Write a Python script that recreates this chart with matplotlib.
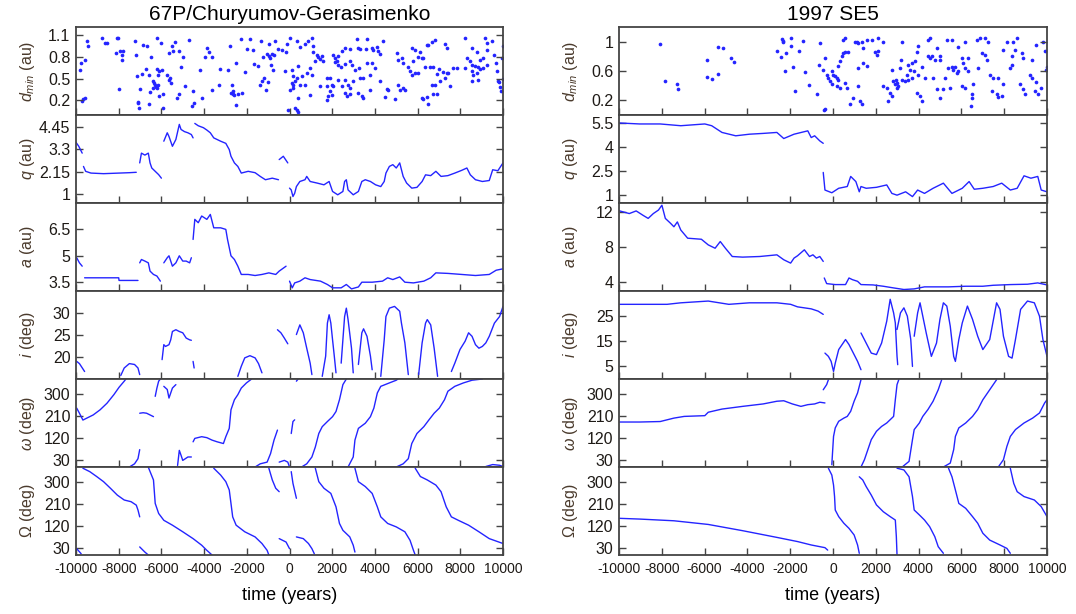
import numpy as np
import matplotlib

matplotlib.use("Agg")
import matplotlib.pyplot as plt

plt.rcParams["font.family"] = ["Liberation Sans", "DejaVu Sans"]
plt.rcParams["mathtext.fontset"] = "custom"
plt.rcParams["mathtext.rm"] = "Liberation Sans"
plt.rcParams["mathtext.it"] = "Liberation Sans:italic"

nan = np.nan
BLUE = "#2424ff"

# ---------------- 67P/Churyumov-Gerasimenko ----------------
dmin67_t = [
    -9470, -9422, -8798, -8642, -8533, -8096, -8049, -7238, -6848, -6661, -6224, -6037, -5350, -5522,
    -5444, -5647, -5163, -4695, -3884, -3759, -2792, -2293, -1856, -1981, -1731, -1341, -967, -686,
    -530, -8127, -7940, -7784, -7862, -7831, -7191, -6489, -5007, -3962, -3619, -1232, -1076, -951,
    -842, -733, -920, -9781, -9563, -9812, -6723, -6926, -6583, -7160, -6224, -6099, -5990, -6146,
    -5756, -5085, -4196, -3260, -2870, -2527, -1669, -1466, -889, -764, -2090, -5600, -5647, -5569,
    -6411, -6349, -6302, -6255, -6193, -6380, -6146, -4898, -4508, -3650, -3291, -2714, -2667, -1310,
    -1185, -1388, -998, -8002, -7004, -6536, -5943, -6099, -5163, -5257, -4118, -2667, -2605, -2745,
    -2402, -2246, -1123, -9656, -9578, -9719, -7082, -7098, -6583, -7035, -5943, -4586, -4477, -2527,
    -366, -132, -163, 24, 336, 493, 727, 883, 1039, 1117, 1117, 1273, 1351, 1429, 1507, 1585, 1195,
    2054, 2132, 2210, 2288, 2444, 2600, 2834, 3146, 3646, 4395, 3224, 3302, 3583, 3849, 3927, 4083,
    4161, 4239, 2132, 2288, 2413, 2600, 2834, 2912, 3068, 3271, 3615, 3849, 4005, 5020, 5098, 5254,
    5332, 5722, 5878, 6034, 6112, 6190, 6268, 6424, 6502, 6658, 6815, 7283, 7361, 5800, 5566, 5644,
    5722, 5878, 6034, 6346, 6580, 6737, 6893, 7018, 7205, 7361, 7439, 7673, 7829, 8219, 8532, 8766,
    9156, 9234, 9265, 9078, 8922, 8298, 8454, 8532, 8688, 8844, 8922, 9078, 9234, 8219, 8532, 8610,
    8766, 8844, 8532, -210, 102, 180, 336, 414, 571, 805, 961, 1039, 102, 180, 149, 258, 24, 493,
    727, 1429, 1741, 1898, 1976, 2054, 1741, 2288, 2444, 2600, 2756, 2834, 2990, 3302, 3458, 3771,
    4239, 961, 1898, 1820, 1976, 2600, 2678, 2834, 3224, 3380, 3427, 3771, 4551, 4629, 4473, 4941,
    5098, 5332, 5176, 5410, 6190, 6268, 6424, 6502, 6737, 6893, 6658, 6815, 7049, 7283, 7517, 414,
    258, 336, 414, -54, 1741, 9500, 9600, 9700, 9750, 9800, 9850, 9900, 9950, 9990, 9980, 9650,
]
dmin67_v = [
    1.02, 0.955, 1.055, 0.986, 0.986, 1.055, 1.055, 1.02, 0.964, 0.95, 1.055, 0.995, 1.0, 0.95,
    0.882, 0.855, 0.886, 1.027, 0.927, 0.873, 0.95, 1.041, 1.041, 0.905, 0.891, 1.018, 0.977, 1.018,
    0.905, 0.855, 0.882, 0.882, 0.827, 0.755, 0.827, 0.791, 0.795, 0.791, 0.791, 0.795, 0.836, 0.818,
    0.841, 0.827, 0.782, 0.714, 0.75, 0.618, 0.636, 0.564, 0.555, 0.532, 0.632, 0.6, 0.623, 0.555,
    0.555, 0.655, 0.623, 0.632, 0.623, 0.714, 0.7, 0.668, 0.682, 0.623, 0.591, 0.509, 0.477, 0.436,
    0.464, 0.441, 0.409, 0.382, 0.373, 0.373, 0.418, 0.405, 0.327, 0.35, 0.418, 0.418, 0.336, 0.464,
    0.509, 0.409, 0.455, 0.364, 0.359, 0.314, 0.295, 0.268, 0.282, 0.227, 0.236, 0.291, 0.273, 0.305,
    0.291, 0.305, 0.35, 0.214, 0.227, 0.191, 0.182, 0.159, 0.145, 0.1, 0.1, 0.123, 0.159, 0.132,
    0.895, 0.973, 0.873, 1.055, 1.018, 0.941, 0.973, 1.018, 1.055, 0.955, 0.873, 0.827, 0.791, 0.768,
    0.805, 0.736, 0.745, 0.827, 0.782, 0.745, 0.814, 0.882, 0.927, 0.905, 1.041, 1.041, 1.018, 0.927,
    0.905, 0.905, 0.927, 0.895, 0.941, 0.882, 0.836, 0.727, 0.691, 0.655, 0.7, 0.736, 0.691, 0.623,
    0.645, 0.714, 0.714, 0.645, 0.85, 0.759, 0.782, 0.714, 0.927, 0.895, 0.791, 0.873, 0.782, 0.782,
    0.964, 0.964, 1.0, 1.032, 0.973, 0.918, 0.736, 0.655, 0.6, 0.555, 0.577, 0.577, 0.655, 0.655,
    0.655, 0.564, 0.636, 0.591, 0.577, 0.577, 0.645, 0.645, 1.055, 0.918, 0.873, 1.055, 0.986, 0.895,
    0.782, 0.759, 0.782, 0.736, 0.691, 0.668, 0.659, 0.636, 0.645, 0.691, 0.645, 0.6, 0.555, 0.577,
    0.486, 0.473, 0.6, 0.623, 0.532, 0.509, 0.668, 0.532, 0.577, 0.645, 0.555, 0.441, 0.418, 0.373,
    0.464, 0.35, 0.418, 0.418, 0.395, 0.509, 0.509, 0.418, 0.395, 0.395, 0.486, 0.395, 0.486, 0.418,
    0.373, 0.464, 0.509, 0.509, 0.555, 0.473, 0.273, 0.327, 0.259, 0.273, 0.305, 0.259, 0.282, 0.305,
    0.259, 0.227, 0.35, 0.359, 0.35, 0.245, 0.214, 0.418, 0.373, 0.35, 0.35, 0.236, 0.214, 0.245,
    0.145, 0.282, 0.282, 0.418, 0.418, 0.464, 0.509, 0.395, 0.236, 0.1, 0.064, 0.045, 0.064, 0.2,
    1.02, 0.82, 0.6, 0.47, 0.45, 0.38, 0.33, 0.78, 0.95, 0.5, 0.72,
]

q67_t = [
    -10000, -9870, -9710, nan,
    -9650, -9548, -9300, -8710, -7984, -7500, -7177, nan,
    -7016, -6935, -6774, -6613, -6532, -6451, -6290, -6129, -6000, nan,
    -5887, -5726, -5645, -5484, -5322, -5161, -5080, -4919, -4758, -4597, -4516, nan,
    -4435, -4274, -4032, -3871, -3709, -3548, -3225, -2983, -2822, -2741, -2580, -2419, -2258, -1935,
    -1612, -1370, -1128, -806, -516, nan,
    -483, -290, -80, nan,
    1, 81, 162, 243, 323, 485, 726, 807, 968, 1291, 1614, 1856, 2017, 2259, 2501, 2581, 2662, 2743,
    2985, 3227, 3388, 3549, 3791, 4033, 4275, 4436, 4517, 4678, 4840, 5001, 5162, 5324, 5485, 5727,
    5969, 6211, 6372, 6614, 6856, 7098, 7420, 7743, 8066, 8308, 8469, 8711, 9033, 9356, 9517, 9759, 10000,
]
q67_v = [
    3.65, 3.45, 3.1, nan,
    2.42, 2.17, 2.08, 2.05, 2.08, 2.1, 2.12, nan,
    2.6, 3.1, 3.0, 3.1, 2.6, 2.34, 2.17, 2.0, 1.82, nan,
    3.71, 4.14, 3.95, 3.45, 3.8, 4.57, 4.31, 4.2, 4.14, 4.05, 3.88, nan,
    4.62, 4.5, 4.4, 4.28, 4.14, 3.88, 3.71, 3.6, 3.28, 2.94, 2.6, 2.42, 2.08, 2.17,
    2.1, 1.91, 1.74, 1.82, 1.74, nan,
    2.77, 2.94, 2.6, nan,
    1.31, 1.22, 0.88, 1.05, 1.39, 1.65, 1.74, 1.91, 1.65, 1.57, 1.48, 1.65, 1.14, 0.97, 1.14, 1.65, 1.74, 1.22,
    0.97, 1.14, 1.65, 1.74, 1.65, 1.48, 1.39, 1.65, 2.08, 2.42, 2.51, 2.34, 2.6, 1.91, 1.57, 1.31,
    1.35, 1.65, 1.99, 1.95, 2.17, 1.91, 1.95, 2.08, 2.22, 2.34, 1.99, 1.74, 1.65, 1.7, 2.25, 2.2, 2.6,
]

a67_t = [
    -9968, -9839, -9710, nan,
    -9597, -8800, -8000, -7984, -7500, -7097, nan,
    -7016, -6935, -6774, -6613, -6532, -6371, -6210, -6048, nan,
    -5887, -5726, -5645, -5484, -5322, -5161, -5000, -4839, -4677, -4597, nan,
    -4516, -4435, -4274, -4113, -3871, -3709, -3548, -3225, -2983, -2903, -2741, -2580, -2419, -2258,
    -1935, -1612, -1290, -967, -645, -483, -161, nan,
    1, 130, 243, 485, 726, 968, 1452, 1775, 2017, 2420, 2662, 2904, 3227, 3388, 3872, 4356, 4598,
    4840, 5162, 5404, 5807, 6291, 6614, 6856, 7420, 8066, 8711, 9356, 9678, 10000,
]
a67_v = [
    4.89, 4.6, 4.41, nan,
    3.75, 3.75, 3.75, 3.6, 3.6, 3.6, nan,
    4.6, 4.79, 4.7, 4.6, 4.13, 3.94, 3.85, 3.56, nan,
    4.6, 4.89, 5.0, 4.41, 4.6, 5.0, 4.7, 4.7, 4.6, 4.89, nan,
    5.93, 7.07, 6.88, 7.26, 7.07, 7.35, 6.59, 6.59, 6.5, 5.93, 5.0, 4.79, 4.41, 3.94,
    3.94, 3.88, 3.94, 4.03, 3.94, 4.13, 4.41, nan,
    3.56, 3.18, 3.46, 3.56, 3.75, 3.65, 3.56, 3.37, 3.18, 3.18, 3.37, 3.12, 3.23, 3.5, 3.5, 3.56, 3.75,
    3.65, 3.8, 3.5, 3.46, 3.56, 3.75, 4.03, 4.0, 3.94, 3.88, 3.94, 4.18, 4.26,
]

i67_t = [
    -9968, -9839, -9677, -9597, nan,
    -7903, -7742, -7500, -7258, -7097, -7016, nan,
    -5968, -5887, -5806, -5645, -5564, -5484, -5322, -5242, -5161, -5000, -4839, -4677, -4597, nan,
    -4516, -4467, nan,
    -2419, -2258, -2096, -1854, -1612, -1451, -1290, nan,
    -564, -403, -242, -80, nan,
    323, 485, 646, 807, 968, 1049, nan,
    1533, 1694, 1775, 1856, 1936, 2017, 2098, 2178, nan,
    2420, 2581, 2662, 2743, 2904, 2985, nan,
    3227, 3388, 3469, 3630, 3791, 3872, nan,
    4275, 4436, 4517, 4678, 4920, 5162, 5243, 5404, 5565, nan,
    6049, 6211, 6372, 6453, 6614, 6775, 6937, nan,
    7582, 7743, 7985, 8227, 8388, 8550, 8711, 8872, 9033, 9194, 9356, 9598, 9840, 10000,
]
i67_v = [
    19.0, 18.5, 17.3, 16.7, nan,
    15.8, 17.5, 18.5, 18.3, 17.5, 16.0, nan,
    19.4, 22.8, 22.4, 22.8, 23.9, 25.8, 26.2, 26.0, 25.8, 25.5, 24.3, 23.9, 23.8, nan,
    19.0, 17.5, nan,
    15.6, 17.9, 19.8, 20.3, 19.8, 18.5, 16.4, nan,
    26.2, 25.5, 24.3, 23.0, nan,
    25.1, 27.3, 25.5, 22.0, 18.6, 16.0, nan,
    15.6, 20.2, 27.7, 29.6, 27.7, 23.9, 20.2, 16.4, nan,
    18.6, 29.2, 31.1, 28.5, 22.0, 16.4, nan,
    18.3, 25.5, 26.4, 24.7, 20.2, 17.1, nan,
    15.6, 23.9, 29.2, 31.1, 31.5, 30.4, 27.7, 23.2, 16.0, nan,
    16.0, 23.2, 27.7, 28.5, 27.3, 22.0, 15.6, nan,
    16.7, 18.6, 21.7, 23.6, 25.5, 24.7, 22.8, 22.0, 22.4, 23.2, 24.7, 27.7, 29.2, 31.5,
]

w67_t = [
    -9968, -9839, -9677, -9516, -9194, -8871, -8548, -8226, -7984, -7742, -7661, nan,
    -7500, -7258, -7097, -7016, nan,
    -7016, -6855, -6693, -6532, -6371, nan,
    -6290, -6210, -6129, -6048, nan,
    -5887, -5726, -5645, -5484, -5322, nan,
    -5242, -5161, -5080, -5000, -4758, -4597, nan,
    -4516, -4435, -4113, -3871, -3629, -3387, -3096, -2983, -2822, -2741, -2580, -2419, -2258, -2016, -1774, nan,
    -1612, -1370, -1048, -887, -725, -564, nan,
    -483, -242, -80, 1, nan,
    81, 162, 243, nan,
    323, 404, nan,
    565, 807, 1049, 1210, 1372, 1533, 1775, 2017, 2178, 2340, 2501, 2662, nan,
    2743, 2985, 3065, 3227, 3549, 3791, 3952, 4114, 4275, 4678, 5001, 5082, nan,
    5001, 5324, 5565, 5727, 5969, 6291, 6533, 6775, 7017, 7259, 7420, 7743, 8146, 8550, 9033, nan,
    9195, 9517, 9840, 10000,
]
w67_v = [
    241, 220, 192, 199, 213, 234, 261, 296, 326, 351, 360, nan,
    0, 13, 34, 71, nan,
    220, 222, 220, 213, 206, nan,
    289, 323, 351, 360, nan,
    330, 317, 282, 323, 337, nan,
    6.5, 68, 48, 27, 41, 41, nan,
    103, 117, 124, 120, 110, 103, 96, 124, 158, 234, 275, 296, 323, 344, 360, nan,
    0, 13, 20, 55, 110, 151, nan,
    20, 27, 20, 0, nan,
    137, 186, 193, nan,
    351, 360, nan,
    0, 13, 41, 82, 137, 165, 186, 206, 227, 275, 337, 360, nan,
    0, 41, 110, 158, 179, 206, 241, 303, 330, 344, 355, 360, nan,
    0, 13, 34, 96, 137, 165, 193, 220, 241, 275, 310, 330, 344, 355, 360, nan,
    2, 10, 7, 2,
]

node67_t = [
    -9677, -9355, -9032, -8710, -8387, -8065, -7742, -7419, -7177, -7097, -7016, nan,
    -9968, -9758, nan,
    -7016, -6774, -6613, nan,
    -6613, -6371, -6290, -6129, -5887, -5484, -5000, -4516, -4113, -3871, -3629, nan,
    -3548, -3225, -2983, -2822, -2741, -2661, -2500, -2096, -1612, -1290, -1048, -967, nan,
    -967, -806, -645, -483, nan,
    -483, -161, 1, nan,
    81, 162, 323, nan,
    323, 646, 888, 1049, 1162, nan,
    1210, 1372, 1614, 1936, 2178, 2340, 2501, 2823, 2985, 3065, nan,
    3065, 3227, 3549, 3872, 4114, 4275, 4598, 5001, 5404, 5646, 5807, 5888, nan,
    5888, 6130, 6453, 6856, 7098, 7340, 7582, 7904, 8388, 8872, 9356, 10000,
]
node67_v = [
    355, 341, 321, 300, 273, 245, 225, 218, 204, 184, 156, nan,
    26, 5, nan,
    33, 12, 0, nan,
    359, 307, 211, 170, 142, 122, 95, 67, 40, 19, 0, nan,
    355, 327, 300, 266, 211, 156, 122, 95, 74, 47, 19, 0, nan,
    355, 307, 273, 259, nan,
    67, 53, 26, nan,
    341, 293, 232, nan,
    74, 67, 47, 26, 5, nan,
    355, 300, 273, 252, 197, 129, 101, 74, 40, 12, nan,
    355, 300, 280, 252, 197, 156, 129, 115, 95, 60, 19, 0, nan,
    355, 321, 307, 286, 259, 197, 156, 142, 122, 95, 67, 47,
]

# ---------------- 1997 SE5 ----------------
dminse5_t = [
    -8082, -7848, -7303, -7225, -5901, -5387, -5153, -4763, -4608, -5885, -5651, -5355, -2629, -2426,
    -2364, -2333, -2333, -2193, -1975, -1975, -1570, -1414, -2239, -1881, -1320, -619, -650, -1772,
    -1102, -728,
    -372, -450, -294, -216, -139, -61, 17, 95, 173, 251, 220, 329, 407, 485, 563, 718, -61, 173, 329,
    563, 641, 485, 563, 1030, 1108, 1186, 1342, 1420, 1575, 1809, 2121, 2354, 1965, 2043, 2121, 1186,
    1420, 1575, 1186, 952, 796, 1264, 1342, -372, 2354, 2510, 2666, 2744, 2588, 2822, 2900, 2978,
    3056, 2978, 2931, 3212, 3368, 3523, 3679, 3803, 3990, 3445, 3601, 3679, 3834, 3212, 3180, 3133,
    2744, 3523, 3912, 3990, 4146, 4302, 3912, 4068, 4146, 4458, 4536, 4458, 4536, 4614, 4769, 4847,
    5003, 5003, 4691, 4847, 5003, 5159, 5237, 5315, 5549, 5861, 5392, 5549, 5627, 5705, 5861, 5783,
    6016, 6172, 6094, 6328, 6172, 6328, 5470, 6016, 6172, 6561, 6483, 6514, 6452, 6717, 6873, 7107,
    7262, 6951, 7107, 7184, 6795, 7340, 7496, 7729, 7963, 7418, 7652, 7729, 7885, 8119, 8431, 8587,
    8509, 7963, 8353, 8820, 8898, 8275, 8353, 8742, 8898, 8976, 9210, 9288,
    9500, 9800, 9900, 9950, 10000, 9700, 9600, 9450, 9300, 9500, -400,
]
dminse5_v = [
    0.964, 0.461, 0.416, 0.348, 0.753, 0.933, 0.91, 0.784, 0.721, 0.515, 0.497, 0.564, 0.874, 0.789,
    1.036, 1.009, 0.991, 0.852, 1.054, 0.942, 0.874, 1.009, 0.596, 0.649, 0.587, 0.978, 0.685, 0.326,
    0.407, 0.281,
    0.775, 0.618, 0.551, 0.506, 0.461, 0.596, 0.551, 0.528, 0.506, 0.483, 0.663, 0.73, 0.798, 0.843,
    0.856, 0.865, 0.416, 0.393, 0.371, 0.438, 0.371, 1.022, 1.045, 0.991, 1.0, 0.978, 0.991, 0.91,
    1.022, 1.022, 1.045, 0.991, 0.865, 0.82, 0.874, 0.64, 0.708, 0.663, 0.393, 0.236, 0.146, 0.191,
    0.146, 0.079, 0.393, 0.371, 0.303, 0.258, 0.191, 0.461, 0.416, 0.438, 0.393, 0.371, 0.483, 0.483,
    0.461, 0.483, 0.506, 0.596, 0.551, 0.551, 0.618, 0.708, 0.73, 0.991, 0.753, 0.64, 0.618, 0.685,
    0.865, 0.946, 0.649, 0.506, 0.303, 0.258, 0.191, 1.022, 1.045, 0.798, 0.775, 0.811, 0.753, 0.91,
    0.798, 0.753, 0.506, 0.348, 0.236, 0.348, 0.506, 1.022, 1.022, 0.933, 0.64, 0.649, 0.618, 0.649,
    0.604, 0.573, 0.784, 0.991, 0.708, 0.775, 0.64, 0.596, 0.371, 0.393, 0.371, 0.416, 0.281, 0.236,
    0.124, 1.022, 1.045, 1.045, 0.991, 0.843, 0.82, 0.753, 0.64, 0.551, 0.506, 0.506, 0.416, 0.326,
    0.281, 0.245, 0.258, 0.991, 1.0, 1.045, 0.888, 0.888, 0.798, 0.843, 0.775, 0.64, 0.685, 0.416,
    0.348, 0.281, 0.551, 0.753,
    0.95, 1.0, 0.87, 0.62, 0.65, 0.37, 0.28, 0.33, 0.5, 0.45, 0.07,
]

qse5_t = [
    -9968, -9038, -8075, -7113, -5990, -5669, -5188, -4546, -3905, -3263, -2622, -2301, -1820, -1178,
    -1018, -857, -616, -456, nan,
    -456, -376, -55, 266, 667, 827, 1068, 1228, 1308, 1549, 2030, 2511, 2752, 2992, 3393, 3714, 3955,
    4276, 4677, 5158, 5559, 6040, 6361, 6601, 7002, 7484, 7885, 8286, 8606, 8927, 9248, 9569, 9729, 10000,
]
qse5_v = [
    5.5, 5.44, 5.44, 5.33, 5.44, 5.33, 4.91, 4.7, 4.8, 4.85, 4.91, 4.53, 4.8, 5.01,
    4.59, 4.7, 4.38, 4.23, nan,
    2.41, 1.31, 1.14, 1.42, 1.53, 2.16, 1.84, 1.2, 1.53, 1.42, 1.48, 1.63, 1.1, 0.99, 1.2, 0.9, 1.31,
    1.1, 1.42, 1.74, 1.1, 1.42, 1.84, 1.36, 1.42, 1.53, 1.74, 1.31, 1.42, 2.2, 2.05, 2.16, 1.31, 1.2,
]

ase5_t = [
    -9968, -9519, -9198, -8877, -8637, -8396, -8155, -7995, -7835, -7594, -7434, -7273, -7113, -6792,
    -6150, -5830, -5509, -5268, -5028, -4707, -4226, -3424, -2622, -2301, -1980, -1820, -1659, -1338,
    -1098, -937, -777, -616, -456, nan,
    -408, -296, 105, 586, 747, 907, 1148, 1308, 1870, 2351, 2832, 3313, 3794, 4276, 5398, 6200, 7002,
    7484, 8286, 9088, 9569, 10000,
]
ase5_v = [
    12.1, 11.8, 12.1, 11.6, 11.25, 11.8, 12.2, 12.75, 11.25, 10.7, 10.3, 10.85, 9.93, 9.0,
    8.88, 8.24, 7.86, 8.62, 7.86, 6.92, 6.85, 6.92, 7.11, 6.55, 6.17, 6.74, 7.0, 7.68,
    6.92, 7.11, 6.74, 6.92, 6.36, nan,
    4.48, 3.84, 3.73, 3.73, 4.48, 4.29, 4.1, 3.73, 3.69, 3.54, 3.35, 3.17, 3.24, 3.47, 3.47, 3.54, 3.54,
    3.65, 3.73, 3.77, 3.92, 3.69,
]

ise5_t = [
    -9968, -9038, -7754, -7113, -5830, -4867, -3905, -2622, -1980, -1659, -1018, -697, -456, nan,
    -376, -215, -87, 25, 105, 266, 474, 586, 747, 987, 1148, 1308, nan,
    1308, 1549, 1789, 2030, 2271, 2511, 2672, 2832, 2912, 2992, 3024, nan,
    2992, 3153, 3313, 3474, 3634, 3714, nan,
    3794, 3955, 4067, 4195, 4356, 4596, 4837, 4997, 5158, 5318, 5479, 5639, 5719, 5880, 6040, 6281,
    6521, 6762, 7002, 7323, 7644, 7804, 7965, 8205, 8366, 8526, 8767, 9088, 9409, 9649, 9809, 10000,
]
ise5_v = [
    29.7, 29.7, 29.7, 30.3, 31.0, 29.7, 30.3, 30.3, 29.7, 28.7, 27.9, 27.0, 25.7, nan,
    10.3, 9.0, 7.0, 3.0, 6.3, 11.7, 14.3, 15.7, 13.7, 9.7, 7.0, 3.7, nan,
    18.3, 14.3, 10.3, 9.7, 14.3, 23.0, 31.7, 26.3, 22.3, 9.0, 5.7, nan,
    19.7, 26.3, 28.3, 25.0, 15.7, 5.0, nan,
    17.0, 26.3, 30.3, 25.0, 18.3, 9.0, 14.3, 23.7, 30.3, 29.0, 21.0, 9.0, 7.0, 15.7, 22.3, 29.0,
    23.7, 17.0, 11.7, 15.7, 30.3, 27.7, 17.0, 9.0, 8.3, 15.7, 27.7, 31.0, 30.3, 25.0, 15.7, 9.0,
]

wse5_t = [
    -9968, -9038, -8075, -7434, -6952, -5990, -5830, -5188, -4226, -3263, -2622, -2301, -1900, -1499,
    -1178, -857, -616, -376, nan,
    -456, -296, -215, nan,
    -55, -23, 25, 105, 266, 506, 667, 827, 987, 1148, 1228, 1308, nan,
    1308, 1469, 1629, 1789, 2030, 2271, 2511, 2832, 2912, 2992, 3073, nan,
    3233, 3554, 3714, 3794, 4035, 4195, 4436, 4677, 4917, 5078, nan,
    5158, 5479, 5639, 5719, 5880, 6200, 6521, 6762, 7002, 7323, 7644, nan,
    7724, 7965, 8125, 8286, 8526, 8927, 9328, 9649, 9890, 10000,
]
wse5_v = [
    184, 184, 186, 200, 207, 210, 224, 237, 248, 258, 269, 271, 258, 248,
    255, 258, 265, 262, nan,
    316, 337, 357, nan,
    9.5, 57, 125, 160, 187, 200, 207, 228, 269, 303, 330, 357, nan,
    0, 30, 71, 112, 146, 166, 180, 207, 275, 337, 357, nan,
    0, 23, 112, 153, 180, 207, 235, 269, 316, 357, nan,
    0, 16, 71, 125, 160, 180, 207, 235, 275, 316, 357, nan,
    0, 30, 84, 125, 153, 180, 200, 221, 262, 275,
]

nodese5_t = [
    -9968, -9038, -7434, -5830, -4226, -2622, -1659, -1018, -376, -248, nan,
    -215, -55, 25, 73, 105, 266, 506, 747, 987, 1148, 1228, nan,
    1228, 1389, 1549, 1789, 2030, 2351, 2672, 2912, 2960, 2992, nan,
    2992, 3313, 3554, 3714, 3794, 4035, 4276, 4516, 4757, 4917, 5158, nan,
    5398, 5559, 5719, 5880, 6200, 6521, 6762, 7002, 7323, 7804, 8125, 8286, nan,
    8286, 8446, 8606, 8927, 9409, 9729, 10000,
]
nodese5_v = [
    150, 147, 140, 125, 99.5, 72, 55, 41, 30, 20, nan,
    355, 327, 286, 239, 184, 157, 130, 109, 82, 41, 7, nan,
    320, 307, 280, 245, 205, 177, 157, 143, 75, 0, nan,
    355, 348, 320, 239, 184, 164, 143, 116, 75, 34, 7, nan,
    355, 320, 266, 211, 191, 157, 130, 89, 61, 41, 27, 7, nan,
    355, 293, 259, 239, 225, 198, 157,
]

time_ticks = list(range(-10000, 10001, 2000))

left_panels = [
    ("scatter", dmin67_t, dmin67_v, (0, 1.21), [0.2, 0.5, 0.8, 1.1], ["0.2", "0.5", "0.8", "1.1"], r"$d_{min}$ (au)"),
    ("track", q67_t, q67_v, (0.55, 5.05), [1, 2.15, 3.3, 4.45], ["1", "2.15", "3.3", "4.45"], r"$q$ (au)"),
    ("track", a67_t, a67_v, (3.0, 8.0), [3.5, 5, 6.5], ["3.5", "5", "6.5"], r"$a$ (au)"),
    ("track", i67_t, i67_v, (15, 35), [20, 25, 30], ["20", "25", "30"], r"$i$ (deg)"),
    ("track", w67_t, w67_v, (0, 360), [30, 120, 210, 300], ["30", "120", "210", "300"], r"$\omega$ (deg)"),
    ("track", node67_t, node67_v, (0, 360), [30, 120, 210, 300], ["30", "120", "210", "300"], r"$\Omega$ (deg)"),
]
right_panels = [
    ("scatter", dminse5_t, dminse5_v, (0, 1.2), [0.2, 0.6, 1.0], ["0.2", "0.6", "1"], r"$d_{min}$ (au)"),
    ("track", qse5_t, qse5_v, (0.5, 6.0), [1, 2.5, 4, 5.5], ["1", "2.5", "4", "5.5"], r"$q$ (au)"),
    ("track", ase5_t, ase5_v, (3, 13), [4, 8, 12], ["4", "8", "12"], r"$a$ (au)"),
    ("track", ise5_t, ise5_v, (0, 35), [5, 15, 25], ["5", "15", "25"], r"$i$ (deg)"),
    ("track", wse5_t, wse5_v, (0, 360), [30, 120, 210, 300], ["30", "120", "210", "300"], r"$\omega$ (deg)"),
    ("track", nodese5_t, nodese5_v, (0, 360), [30, 120, 210, 300], ["30", "120", "210", "300"], r"$\Omega$ (deg)"),
]

W, H = 1076, 614
fig = plt.figure(figsize=(W / 100, H / 100), dpi=100)


def draw_column(panels, left_px, width_px, title):
    top_px, panel_px = 27, 88
    axes = []
    for k, (kind, t, v, ylim, yticks, ylabels, ylabel) in enumerate(panels):
        bottom_px = top_px + panel_px * (k + 1)
        ax = fig.add_axes([left_px / W, 1 - bottom_px / H, width_px / W, panel_px / H])
        if kind == "scatter":
            ax.scatter(t, v, s=7, color=BLUE, linewidths=0)
        else:
            ax.plot(t, v, color=BLUE, lw=1.0, solid_capstyle="round")
        ax.set_xlim(-10000, 10000)
        ax.set_ylim(*ylim)
        ax.set_xticks(time_ticks)
        ax.set_yticks(yticks)
        ax.set_yticklabels(ylabels)
        ax.tick_params(direction="in", left=True, right=True, top=False, bottom=True,
                       length=5, width=1.0, color="#444444", labelcolor="#1e1a16",
                       labelsize=11.5, pad=4)
        ax.tick_params(axis="x", labelsize=10, pad=5)
        for spine in ax.spines.values():
            spine.set_color("#444444")
            spine.set_linewidth(1.3)
        ax.set_ylabel(ylabel, fontsize=11.5, color="#4a3a2c")
        ax.yaxis.set_label_coords(-0.092, 0.5)
        if k < len(panels) - 1:
            ax.tick_params(labelbottom=False)
        axes.append(ax)
    axes[0].set_title(title, fontsize=15, pad=5)
    axes[-1].set_xlabel("time (years)", fontsize=13, labelpad=8)
    axes[-1].set_xticklabels([str(x) for x in time_ticks])


draw_column(left_panels, 76, 427, "67P/Churyumov-Gerasimenko")
draw_column(right_panels, 619, 428, "1997 SE5")

fig.savefig("out.png", dpi=100)
